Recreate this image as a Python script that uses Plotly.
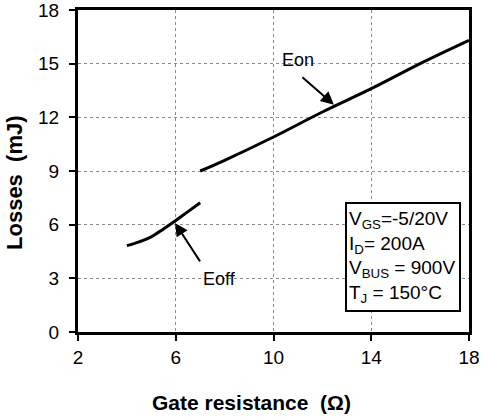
import plotly.graph_objects as go

# Datos
rg_eon = [7, 8, 10, 12, 14, 16, 18]
eon = [9.0, 9.6, 10.9, 12.3, 13.6, 15.0, 16.3]

rg_eoff = [4.0, 4.5, 5.0, 5.5, 6.0, 6.5, 7.0]
eoff = [4.83, 5.04, 5.32, 5.76, 6.23, 6.73, 7.22]

x_ticks = [2, 6, 10, 14, 18]
y_ticks = [0, 3, 6, 9, 12, 15, 18]

fuente = "Liberation Sans, Arial, sans-serif"

fig = go.Figure()
fig.add_trace(go.Scatter(x=rg_eon, y=eon, mode="lines", name="Eon",
                         line=dict(color="black", width=3, shape="spline")))
fig.add_trace(go.Scatter(x=rg_eoff, y=eoff, mode="lines", name="Eoff",
                         line=dict(color="black", width=3, shape="spline")))

ejes = dict(
    showline=True, linecolor="black", linewidth=3, mirror=True,
    ticks="outside", ticklen=6, tickwidth=2, tickcolor="black",
    showgrid=True, gridcolor="#8a8a8a", gridwidth=1, griddash="dot",
    zeroline=False, automargin=False, ticklabeloverflow="allow",
    tickfont=dict(family=fuente, size=19, color="black"),
)

fig.update_layout(
    width=485, height=420,
    margin=dict(l=78, r=16, t=10, b=88),
    paper_bgcolor="white", plot_bgcolor="white",
    showlegend=False,
    font=dict(family=fuente, color="black"),
    xaxis=dict(ejes, range=[2, 18], tickvals=x_ticks),
    yaxis=dict(ejes, range=[0, 18], tickvals=y_ticks, ticklabelstandoff=6),
)

# Titulos de ejes (como anotaciones para poder desplazarlos)
fig.add_annotation(xref="paper", yref="paper", x=0.445, y=-0.22,
                   xanchor="center", yanchor="middle",
                   text="<b>Gate resistance  (Ω)</b>", showarrow=False,
                   font=dict(family=fuente, size=21, color="black"))
fig.add_annotation(xref="paper", yref="paper", x=-0.161, y=0.463,
                   xanchor="center", yanchor="middle",
                   text="<b>Losses  (mJ)</b>", showarrow=False, textangle=-90,
                   font=dict(family=fuente, size=22, color="black"))

# Etiquetas con flecha
fig.add_annotation(x=12.47, y=12.7, ax=-33, ay=-29,
                   text="", showarrow=True, arrowhead=2, arrowsize=1.3,
                   arrowwidth=2, arrowcolor="black")
fig.add_annotation(x=12.47, y=12.7, text="Eon", showarrow=False,
                   xshift=-36, yshift=45, font=dict(size=18, color="black"))

fig.add_annotation(x=5.97, y=6.1, ax=26, ay=40, text="", showarrow=True,
                   arrowhead=2, arrowsize=1.3, arrowwidth=2, arrowcolor="black")
fig.add_annotation(x=5.97, y=6.1, text="Eoff", showarrow=False,
                   xshift=44, yshift=-56, font=dict(size=18, color="black"))

# Caja de condiciones
fig.add_annotation(
    x=12.93, y=7.28, xanchor="left", yanchor="top",
    text="V<sub>GS</sub>=-5/20V<br>I<sub>D</sub>= 200A<br>"
         "V<sub>BUS</sub> = 900V<br>T<sub>J</sub> = 150°C",
    showarrow=False, align="left", valign="middle",
    width=108, height=102, borderwidth=2, bordercolor="black", borderpad=2,
    bgcolor="white", font=dict(size=19, color="black"),
)

fig.write_html("out.html", config={"displayModeBar": False},
               post_script="document.body.style.margin='0';")
